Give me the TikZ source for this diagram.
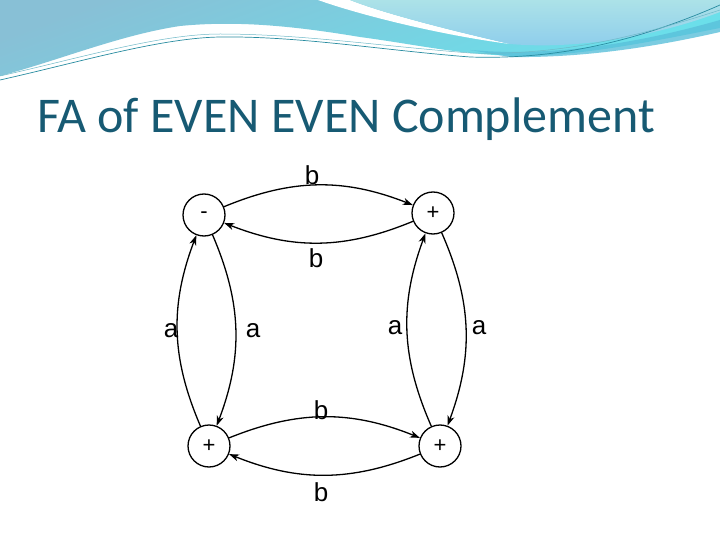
\documentclass[tikz,border=0pt]{standalone}
\usepackage{fontspec}
\setmainfont{Liberation Sans}
\newfontfamily\titlefont{Carlito}
\usetikzlibrary{arrows.meta}
\definecolor{titleblue}{RGB}{23,90,115}
\definecolor{bandtop}{RGB}{136,192,214}
\definecolor{bandbot}{RGB}{104,226,236}
\definecolor{lighttop}{RGB}{172,226,232}
\definecolor{lightbot}{RGB}{140,204,236}
\definecolor{tealband}{RGB}{90,192,218}
\definecolor{tealline}{RGB}{40,140,160}
\definecolor{tealline2}{RGB}{110,185,200}
\tikzset{
  state/.style={circle, draw, line width=1.3pt, minimum size=42pt, inner sep=0pt, font=\fontsize{22}{24}\selectfont},
  trans/.style={line width=1.3pt, -{Stealth[length=10pt,width=7pt,inset=3pt]}, bend left=22},
  lbl/.style={font=\fontsize{26}{28}\selectfont, inner sep=0pt}
}
\begin{document}
\begin{tikzpicture}[x=1pt,y=-1pt]
\useasboundingbox (0,0) rectangle (720,540);
\fill[white] (0,0) rectangle (720,540);
% header decoration
\shade[top color=bandtop, bottom color=bandbot, shading angle=20]
  (0,0) -- (720,0) -- (720,28) .. controls (650,42) and (580,56) .. (520,56)
  .. controls (460,55) and (420,45) .. (360,37)
  .. controls (300,27) and (240,20) .. (180,26)
  .. controls (120,35) and (60,60) .. (0,76) -- cycle;
\fill[tealband, opacity=0.8]
  (470,50) .. controls (560,58) and (650,40) .. (720,20) -- (720,32)
  .. controls (650,48) and (580,58) .. (510,57) -- cycle;
\fill[white]
  (318,0) .. controls (360,15) and (440,35) .. (510,44)
  .. controls (440,28) and (380,12) .. (350,0) -- cycle;
\shade[top color=lighttop, bottom color=lightbot]
  (350,0) .. controls (380,12) and (440,28) .. (510,44)
  .. controls (580,50) and (660,35) .. (720,12) -- (720,0) -- cycle;
\draw[tealline, line width=0.7pt]
  (0,80) .. controls (80,62) and (160,38) .. (220,37)
  .. controls (300,36) and (380,50) .. (470,57)
  .. controls (560,60) and (640,40) .. (720,5);
\draw[tealline2, line width=0.5pt]
  (0,76) .. controls (80,58) and (160,34) .. (220,34)
  .. controls (300,34) and (380,46) .. (470,53)
  .. controls (560,56) and (640,36) .. (720,10);
% title
\node[anchor=base west, inner sep=0pt, text=titleblue, font=\titlefont\fontsize{50}{60}\selectfont] (title) at (37,133) {FA of EVEN EVEN Complement};
% states
\node[state] (tl) at (204,215) {-};
\node[state] (tr) at (433,213) {+};
\node[state] (bl) at (209,446) {+};
\node[state] (br) at (440,446) {+};
% transitions
\draw[trans] (tl) to (tr);
\draw[trans] (tr) to (tl);
\draw[trans] (bl) to (br);
\draw[trans] (br) to (bl);
\draw[trans] (bl) to (tl);
\draw[trans] (tl) to (bl);
\draw[trans] (br) to (tr);
\draw[trans] (tr) to (br);
% labels
\node[lbl] (l1) at (312,175) {b};
\node[lbl] (l2) at (316,258) {b};
\node[lbl] (l3) at (321,410) {b};
\node[lbl] (l4) at (321,492) {b};
\node[lbl] (l5) at (171,331) {a};
\node[lbl] (l6) at (253,331) {a};
\node[lbl] (l7) at (395,328) {a};
\node[lbl] (l8) at (479,328) {a};
\end{tikzpicture}
\end{document}
